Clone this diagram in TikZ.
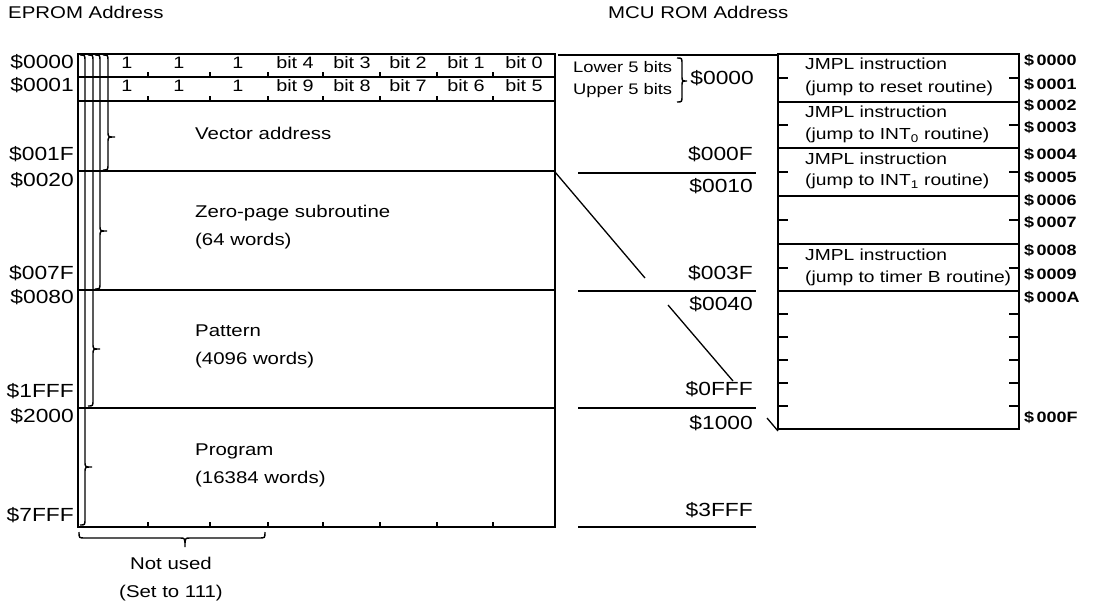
\documentclass[tikz,border=0pt]{standalone}
\usepackage{fontspec}
\setmainfont{Liberation Sans}[FakeStretch=1.2]
\newcommand\vbr[5]{%
\draw[brc] (#1-5,#2) .. controls (#1,#2) .. (#1,#2+6) -- (#1,#3-5) .. controls (#1,#3) .. (#1+#5,#3) .. controls (#1,#3) .. (#1,#3+5) -- (#1,#4-6) .. controls (#1,#4) .. (#1-5,#4);}
\begin{document}
\begin{tikzpicture}[x=1pt,y=-1pt,
  ln/.style={line width=1.6pt},
  outer/.style={line width=2pt},
  brc/.style={line width=1.4pt},
  tick/.style={line width=1.3pt},
  addr/.style={font=\fontsize{19}{22}\selectfont, inner sep=0pt, anchor=mid east},
  lbl/.style={font=\fontsize{17}{20}\selectfont, inner sep=0pt, anchor=mid west},
  bitl/.style={font=\fontsize{16.5}{18}\selectfont, inner sep=0pt, anchor=mid},
  small/.style={font=\fontsize{16}{18}\selectfont, inner sep=0pt, anchor=mid west},
  raddr/.style={font=\fontsize{15}{17}\bfseries\selectfont, inner sep=0pt, anchor=mid west},
]
\useasboundingbox (0,0) rectangle (1096,606);
% titles
\node[lbl] (t1) at (8,16) {EPROM Address};
\node[lbl] (t2) at (608,16) {MCU ROM Address};
% EPROM box
\draw[outer] (78,54) rectangle (555,527);
\foreach \y in {77,101,171,290,408} \draw[ln] (78,\y) -- (555,\y);
\foreach \y in {77,101,527} \foreach \x in {148,210,268,323,380,437,493} \draw[tick] (\x,\y) -- (\x,\y-5);
% bit labels
\foreach \x/\t [count=\i] in {127/1,179/1,238/1,295/bit 4,352/bit 3,408/bit 2,466/bit 1,524/bit 0}
  \node[bitl] (ra\i) at (\x,66) {\t};
\foreach \x/\t [count=\i] in {127/1,179/1,238/1,295/bit 9,352/bit 8,408/bit 7,466/bit 6,524/bit 5}
  \node[bitl] (rb\i) at (\x,89) {\t};
% left addresses
\node[addr] (a1) at (74,66) {\$0000};
\node[addr] (a2) at (74,89) {\$0001};
\node[addr] (a3) at (74,158) {\$001F};
\node[addr] (a4) at (74,184) {\$0020};
\node[addr] (a5) at (74,277) {\$007F};
\node[addr] (a6) at (74,301) {\$0080};
\node[addr] (a7) at (74,395) {\$1FFF};
\node[addr] (a8) at (74,420) {\$2000};
\node[addr] (a9) at (74,519) {\$7FFF};
% braces
\vbr{108}{55}{137}{170}{7}
\vbr{100}{55}{231}{289}{7}
\vbr{93}{55}{349}{406}{7}
\vbr{85}{55}{467}{525}{7}
% region labels
\node[lbl] (v) at (195,137) {Vector address};
\node[lbl] (z1) at (195,215) {Zero-page subroutine};
\node[lbl] (z2) at (195,243) {(64 words)};
\node[lbl] (p1) at (195,334) {Pattern};
\node[lbl] (p2) at (195,362) {(4096 words)};
\node[lbl] (g1) at (195,453) {Program};
\node[lbl] (g2) at (195,481) {(16384 words)};
% not used brace
\draw[brc] (79,532) .. controls (79,538) .. (85,538) -- (180,538) .. controls (185,538) .. (185,547) .. controls (185,538) .. (190,538) -- (259,538) .. controls (265,538) .. (265,532);
\node[lbl,anchor=mid] (n1) at (171,567) {Not used};
\node[lbl,anchor=mid] (n2) at (171,595) {(Set to 111)};
% MCU middle column
\draw[ln] (558,55) -- (778,55);
\foreach \y in {173,291,408,527} \draw[ln] (578,\y) -- (756,\y);
\node[small,font=\fontsize{15.3}{18}\selectfont] (lo) at (573,70) {Lower 5 bits};
\node[small,font=\fontsize{15.3}{18}\selectfont] (up) at (573,92) {Upper 5 bits};
\vbr{682}{58}{81}{102}{5}
\node[addr] (m1) at (754,82) {\$0000};
\node[addr] (m2) at (753,158) {\$000F};
\node[addr] (m3) at (753,190) {\$0010};
\node[addr] (m4) at (753,277) {\$003F};
\node[addr] (m5) at (753,308) {\$0040};
\node[addr] (m6) at (753,393) {\$0FFF};
\node[addr] (m7) at (753,427) {\$1000};
\node[addr] (m8) at (753,514) {\$3FFF};
% diagonals
\coordinate (d1a) at (555,172); \coordinate (d1b) at (645,278);
\coordinate (d2a) at (668,305); \coordinate (d2b) at (733,381);
\coordinate (d3a) at (767,418); \coordinate (d3b) at (778,431);
\draw[tick] (d1a) -- (d1b);
\draw[tick] (d2a) -- (d2b);
\draw[tick] (d3a) -- (d3b);
% right box
\draw[outer] (778,54) rectangle (1019,429);
\foreach \y in {102,148,196,244,291} \draw[ln] (778,\y) -- (1019,\y);
\foreach \y in {78,125,172,220,268,314,337,360,383,406} {
  \draw[tick] (778,\y) -- (788,\y);
  \draw[tick] (1009,\y) -- (1019,\y);
}
\node[small] (j1) at (805,67) {JMPL instruction};
\node[small] (j1b) at (805,90) {(jump to reset routine)};
\node[small] (j2) at (805,115) {JMPL instruction};
\node[small] (j2b) at (805,137) {(jump to INT\textsubscript{0} routine)};
\node[small] (j3) at (805,162) {JMPL instruction};
\node[small] (j3b) at (805,183) {(jump to INT\textsubscript{1} routine)};
\node[small] (j4) at (805,258) {JMPL instruction};
\node[small] (j4b) at (805,280) {(jump to timer B routine)};
% right addresses
\foreach \y/\t [count=\i] in {63/0000,87/0001,108/0002,130/0003,157/0004,180/0005,203/0006,225/0007,253/0008,277/0009,300/000A,420/000F}
  \node[raddr] (r\i) at (1024,\y) {\$\,\t};
\end{tikzpicture}
\end{document}
